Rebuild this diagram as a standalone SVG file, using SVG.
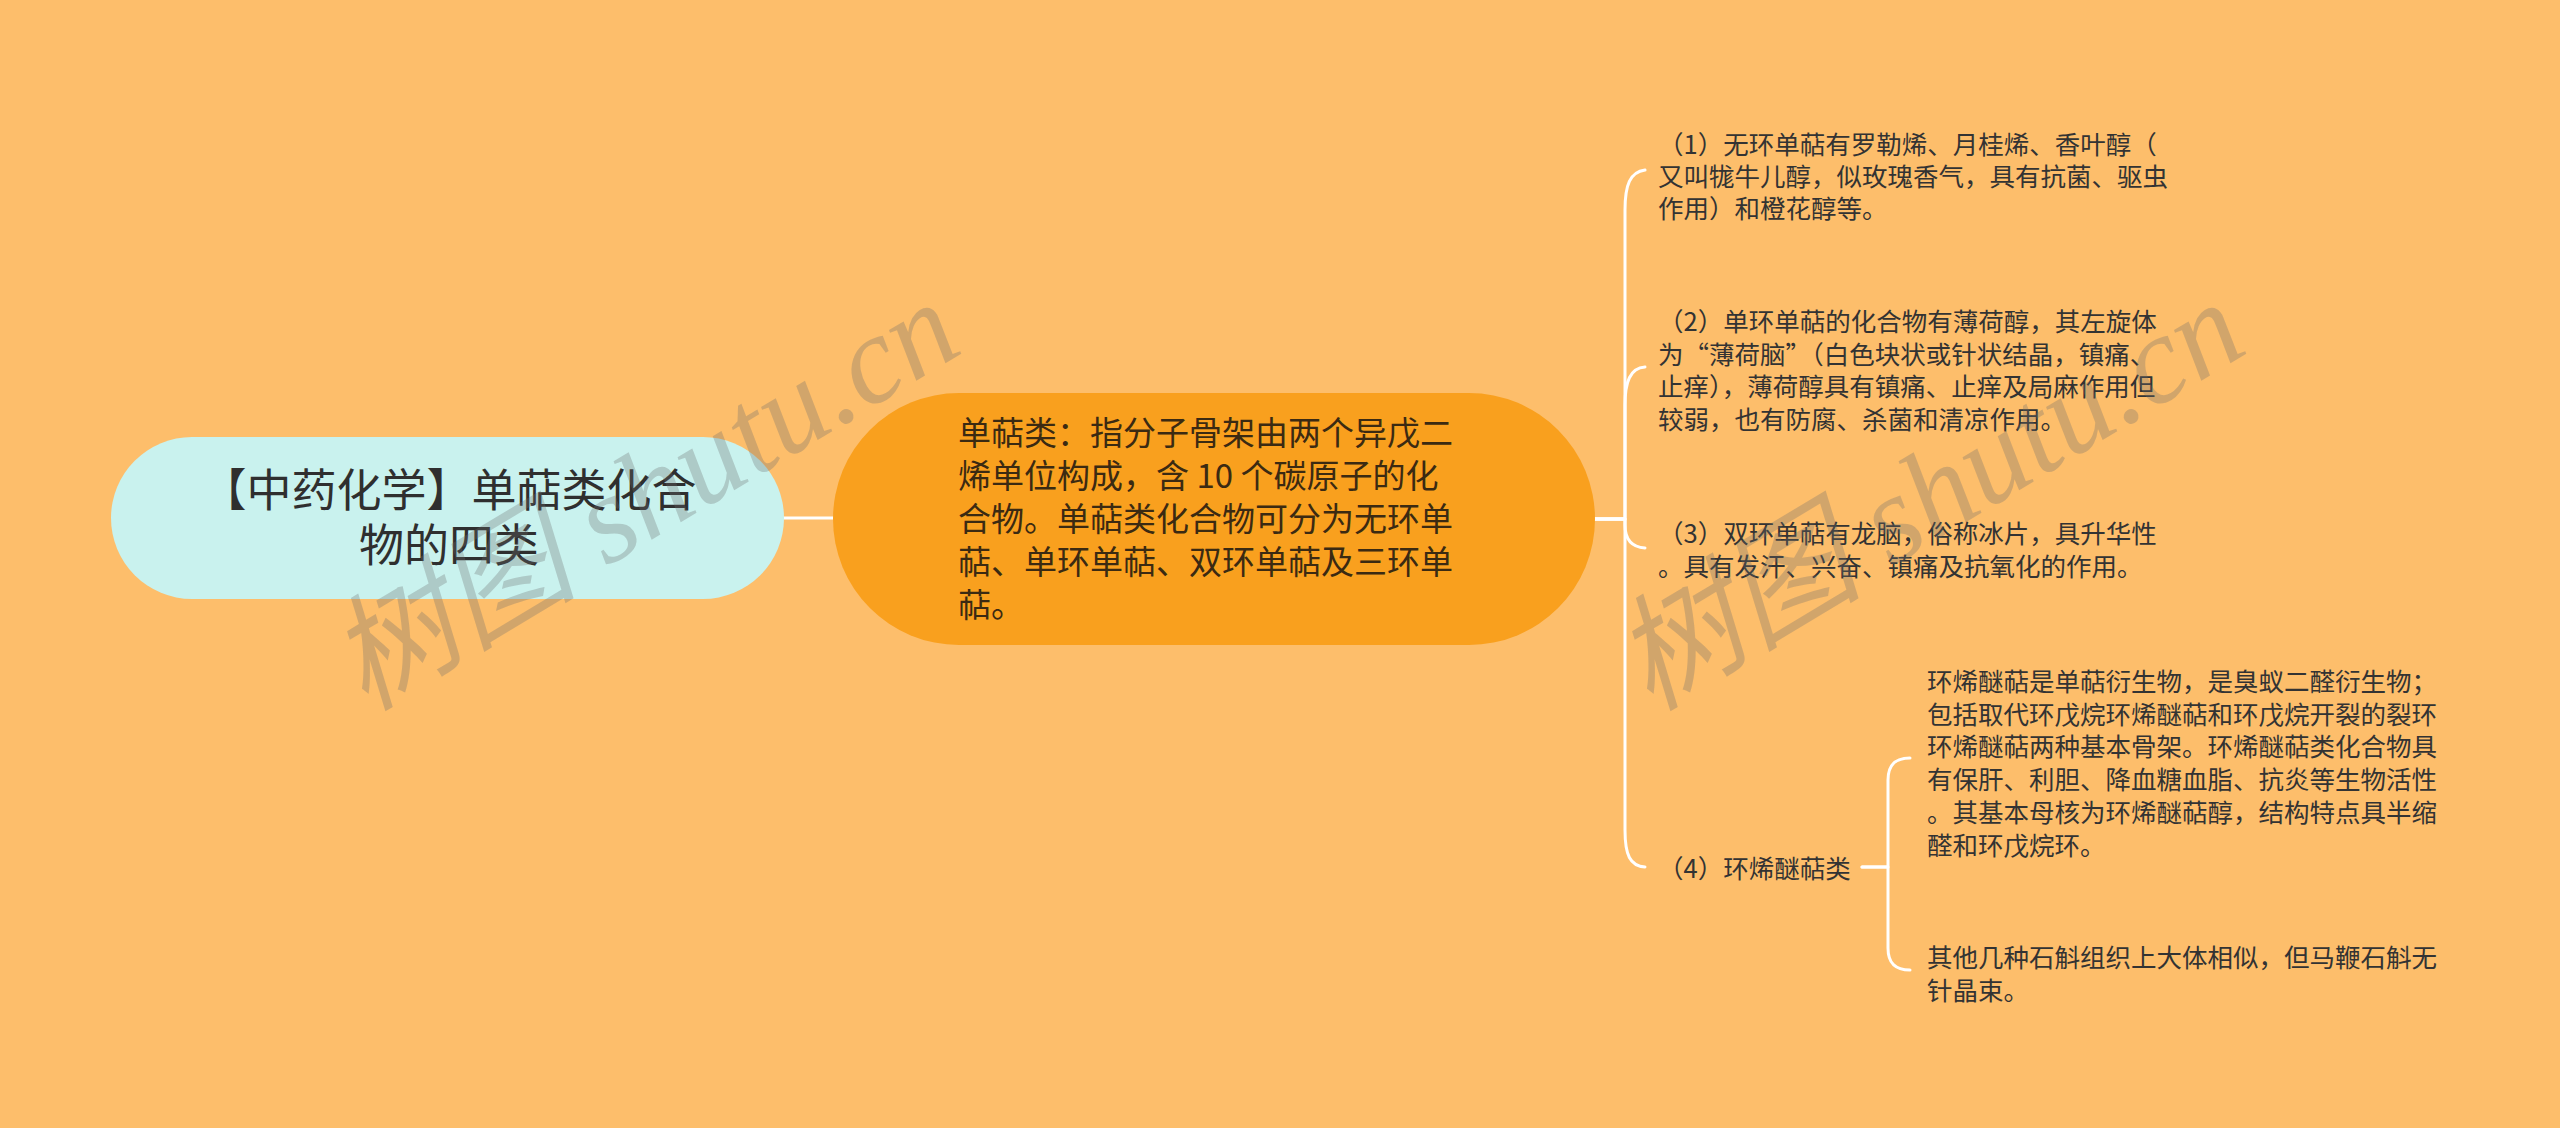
<svg xmlns="http://www.w3.org/2000/svg" width="2560" height="1128" viewBox="0 0 2560 1128">
<style>
.bg{fill:#FDBE6B}
.link{fill:none;stroke:#FFFFFF;stroke-width:3;stroke-linecap:round;stroke-linejoin:round}
.t{font-family:"Noto Sans CJK SC","Noto Sans",sans-serif}
.root{font-size:45px;fill:#2f2f2f}
.main{font-size:33px;fill:#3b2a12}
.leaf{font-size:25.5px;fill:#333333}
.wm{font-family:"Liberation Serif","Noto Sans CJK SC",serif;font-style:italic;font-size:125px;fill:#6e6e6e;fill-opacity:0.3}
</style>
<rect class="bg" x="0" y="0" width="2560" height="1128"/>
<g id="connectors">
<path class="link" d="M784 518 L833 518"/>
<path class="link" d="M1595 519 L1625 519 L1625 210 C1625 185 1630 172 1645 170"/>
<path class="link" d="M1595 519 L1625 519 L1625 405 C1625 382 1630 368 1645 367"/>
<path class="link" d="M1595 519 L1625 519 L1625 525 C1625 538 1630 547 1645 548"/>
<path class="link" d="M1595 519 L1625 519 L1625 830 C1625 855 1630 866 1645 867"/>
<path class="link" d="M1862 867 L1888 867 L1888 780 C1888 765 1895 758 1910 758"/>
<path class="link" d="M1862 867 L1888 867 L1888 948 C1888 963 1895 970 1910 970"/>
</g>
<g id="root">
<rect x="111" y="437" width="673" height="162" rx="81" ry="81" fill="#C9F2EE"/>
<text class="t root" text-anchor="middle"><tspan x="449" y="507">【中药化学】单萜类化合</tspan><tspan x="449" y="562">物的四类</tspan></text>
</g>
<g id="main">
<rect x="833" y="393" width="762" height="252" rx="126" ry="126" fill="#F9A01E"/>
<text class="t main"><tspan x="958" y="445">单萜类：指分子骨架由两个异戊二</tspan><tspan x="958" y="488">烯单位构成，含 10 个碳原子的化</tspan><tspan x="958" y="531">合物。单萜类化合物可分为无环单</tspan><tspan x="958" y="574">萜、单环单萜、双环单萜及三环单</tspan><tspan x="958" y="617">萜。</tspan></text>
</g>
<g id="child1">
<text class="t leaf"><tspan x="1658" y="154">（1）无环单萜有罗勒烯、月桂烯、香叶醇（</tspan><tspan x="1658" y="186">又叫牻牛儿醇，似玫瑰香气，具有抗菌、驱虫</tspan><tspan x="1658" y="218">作用）和橙花醇等。</tspan></text>
</g>
<g id="child2">
<text class="t leaf"><tspan x="1658" y="331">（2）单环单萜的化合物有薄荷醇，其左旋体</tspan><tspan x="1658" y="364">为“薄荷脑”（白色块状或针状结晶，镇痛、</tspan><tspan x="1658" y="396">止痒），薄荷醇具有镇痛、止痒及局麻作用但</tspan><tspan x="1658" y="429">较弱，也有防腐、杀菌和清凉作用。</tspan></text>
</g>
<g id="child3">
<text class="t leaf"><tspan x="1658" y="543">（3）双环单萜有龙脑，俗称冰片，具升华性</tspan><tspan x="1658" y="576">。具有发汗、兴奋、镇痛及抗氧化的作用。</tspan></text>
</g>
<g id="child4">
<text class="t leaf" x="1658" y="878">（4）环烯醚萜类</text>
</g>
<g id="grandchild1">
<text class="t leaf"><tspan x="1927" y="691">环烯醚萜是单萜衍生物，是臭蚁二醛衍生物；</tspan><tspan x="1927" y="724">包括取代环戊烷环烯醚萜和环戊烷开裂的裂环</tspan><tspan x="1927" y="756">环烯醚萜两种基本骨架。环烯醚萜类化合物具</tspan><tspan x="1927" y="789">有保肝、利胆、降血糖血脂、抗炎等生物活性</tspan><tspan x="1927" y="822">。其基本母核为环烯醚萜醇，结构特点具半缩</tspan><tspan x="1927" y="855">醛和环戊烷环。</tspan></text>
</g>
<g id="grandchild2">
<text class="t leaf"><tspan x="1927" y="967">其他几种石斛组织上大体相似，但马鞭石斛无</tspan><tspan x="1927" y="1000">针晶束。</tspan></text>
</g>
<g id="watermarks">
<text class="wm" transform="translate(365,712) rotate(-31)">树图 shutu.cn</text>
<text class="wm" transform="translate(1650,712) rotate(-31)">树图 shutu.cn</text>
</g>
</svg>
